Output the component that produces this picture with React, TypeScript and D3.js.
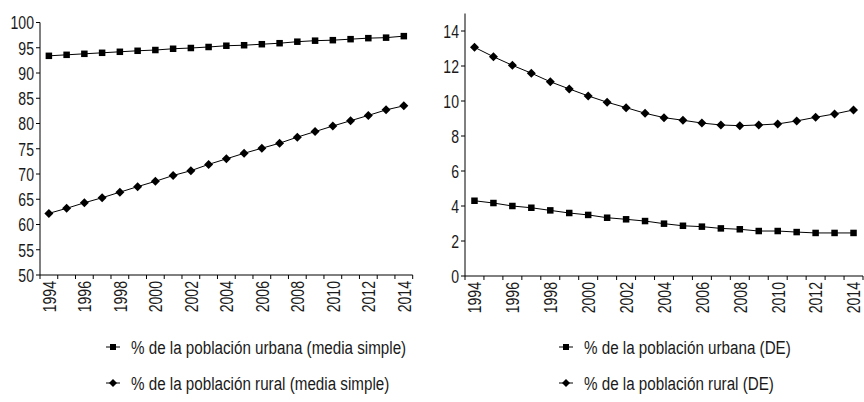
import React from "react";
import * as d3 from "d3";

const years: string[] = d3.range(1994, 2015).map(String);
const tickYears: string[] = years.filter((_, i) => i % 2 === 0);

const urbanMean: number[] = [93.4, 93.6, 93.8, 94.0, 94.2, 94.4, 94.55, 94.8, 94.95, 95.15, 95.4, 95.5, 95.7, 95.9, 96.2, 96.4, 96.5, 96.7, 96.9, 97.0, 97.3];
const ruralMean: number[] = [62.2, 63.2, 64.3, 65.3, 66.4, 67.5, 68.55, 69.7, 70.65, 71.9, 73.0, 74.1, 75.1, 76.1, 77.3, 78.4, 79.5, 80.55, 81.6, 82.7, 83.5];
const urbanSD: number[] = [4.30, 4.17, 4.00, 3.90, 3.75, 3.60, 3.49, 3.33, 3.24, 3.14, 2.99, 2.87, 2.82, 2.72, 2.67, 2.57, 2.57, 2.51, 2.46, 2.46, 2.46];
const ruralSD: number[] = [13.07, 12.53, 12.04, 11.59, 11.10, 10.69, 10.29, 9.93, 9.62, 9.30, 9.05, 8.90, 8.74, 8.63, 8.59, 8.63, 8.69, 8.86, 9.07, 9.26, 9.49];

const leftTicks: number[] = [50, 55, 60, 65, 70, 75, 80, 85, 90, 95, 100];
const rightTicks: number[] = [0, 2, 4, 6, 8, 10, 12, 14];

const legendLeft: string[] = ["% de la población urbana (media simple)", "% de la población rural (media simple)"];
const legendRight: string[] = ["% de la población urbana (DE)", "% de la población rural (DE)"];

const FONT = "'Liberation Sans', Arial, sans-serif";
const TICK_SX = 0.74;
const LEG_SX = 0.8;
const TEXT_FILL = "#1a1a1a";

function Square({ x, y, s = 6.5 }: { x: number; y: number; s?: number }) {
  return <rect x={x - s / 2} y={y - s / 2} width={s} height={s} fill="#000" />;
}
function Diamond({ x, y, r = 4.5 }: { x: number; y: number; r?: number }) {
  return <path d={`M${x},${y - r}L${x + r},${y}L${x},${y + r}L${x - r},${y}Z`} fill="#000" />;
}

function Panel({
  x0, x1, yScale, ticks, axisTop, series, fontSize,
}: {
  x0: number; x1: number; yScale: d3.ScaleLinear<number, number>; ticks: number[]; axisTop: number;
  series: { values: number[]; marker: "square" | "diamond" }[]; fontSize: number;
}) {
  const x = d3.scaleBand<string>().domain(years).range([x0, x1]).padding(0);
  const base = yScale.range()[0];
  const bw = x.bandwidth();
  const boundaries = d3.range(years.length + 1).map((i) => x0 + i * bw);
  return (
    <g>
      {series.map((s, k) => {
        const line = d3.line<number>().x((_, i) => (x(years[i]) as number) + bw / 2).y((v) => yScale(v));
        return (
          <g key={k}>
            <path d={line(s.values) || ""} fill="none" stroke="#000" strokeWidth={1} />
            {s.values.map((v, i) =>
              s.marker === "square" ? (
                <Square key={i} x={(x(years[i]) as number) + bw / 2} y={yScale(v)} />
              ) : (
                <Diamond key={i} x={(x(years[i]) as number) + bw / 2} y={yScale(v)} />
              )
            )}
          </g>
        );
      })}
      <line x1={x0} x2={x0} y1={axisTop} y2={base} stroke="#000" strokeWidth={1} />
      {ticks.map((t) => (
        <g key={t}>
          <line x1={x0 - 4} x2={x0} y1={yScale(t)} y2={yScale(t)} stroke="#000" />
          <text
            transform={`translate(${x0 - 6},${yScale(t)}) scale(${TICK_SX},1)`}
            dy="0.36em"
            textAnchor="end"
            fontFamily={FONT}
            fontSize={fontSize}
            fill={TEXT_FILL}
          >
            {t}
          </text>
        </g>
      ))}
      <line x1={x0} x2={x1} y1={base} y2={base} stroke="#000" strokeWidth={1} />
      {boundaries.map((b, i) => (
        <line key={i} x1={b} x2={b} y1={base} y2={base + 4} stroke="#000" />
      ))}
      {tickYears.map((yr) => {
        const cx = (x(yr) as number) + bw / 2;
        const ty = base + 6;
        return (
          <text
            key={yr}
            transform={`translate(${cx},${ty}) rotate(-90) scale(${TICK_SX},1)`}
            dy="0.36em"
            textAnchor="end"
            fontFamily={FONT}
            fontSize={fontSize}
            fill={TEXT_FILL}
          >
            {yr}
          </text>
        );
      })}
    </g>
  );
}

function LegendItem({ x, y, label, marker }: { x: number; y: number; label: string; marker: "square" | "diamond" }) {
  return (
    <g>
      <line x1={x - 7} x2={x + 7} y1={y} y2={y} stroke="#000" />
      {marker === "square" ? <Square x={x} y={y} s={6} /> : <Diamond x={x} y={y} r={4} />}
      <text
        transform={`translate(${x + 18},${y}) scale(${LEG_SX},1)`}
        dy="0.36em"
        fontFamily={FONT}
        fontSize={19}
        fill={TEXT_FILL}
      >
        {label}
      </text>
    </g>
  );
}

export default function App() {
  const yLeft = d3.scaleLinear().domain([50, 100]).range([275, 22.5]);
  const yRight = d3.scaleLinear().domain([0, 15]).range([276, 13.5]);
  return (
    <svg width={864} height={402} style={{ position: "absolute", left: 0, top: 0, background: "#fff" }}>
      <rect width={864} height={402} fill="#fff" />
      <Panel
        x0={40}
        x1={412.7}
        yScale={yLeft}
        ticks={leftTicks}
        axisTop={yLeft(100)}
        fontSize={19}
        series={[
          { values: urbanMean, marker: "square" },
          { values: ruralMean, marker: "diamond" },
        ]}
      />
      <Panel
        x0={465}
        x1={863}
        yScale={yRight}
        ticks={rightTicks}
        axisTop={yRight(15)}
        fontSize={19}
        series={[
          { values: urbanSD, marker: "square" },
          { values: ruralSD, marker: "diamond" },
        ]}
      />
      <LegendItem x={113} y={347} label={legendLeft[0]} marker="square" />
      <LegendItem x={113} y={383} label={legendLeft[1]} marker="diamond" />
      <LegendItem x={566} y={347} label={legendRight[0]} marker="square" />
      <LegendItem x={566} y={383} label={legendRight[1]} marker="diamond" />
    </svg>
  );
}
